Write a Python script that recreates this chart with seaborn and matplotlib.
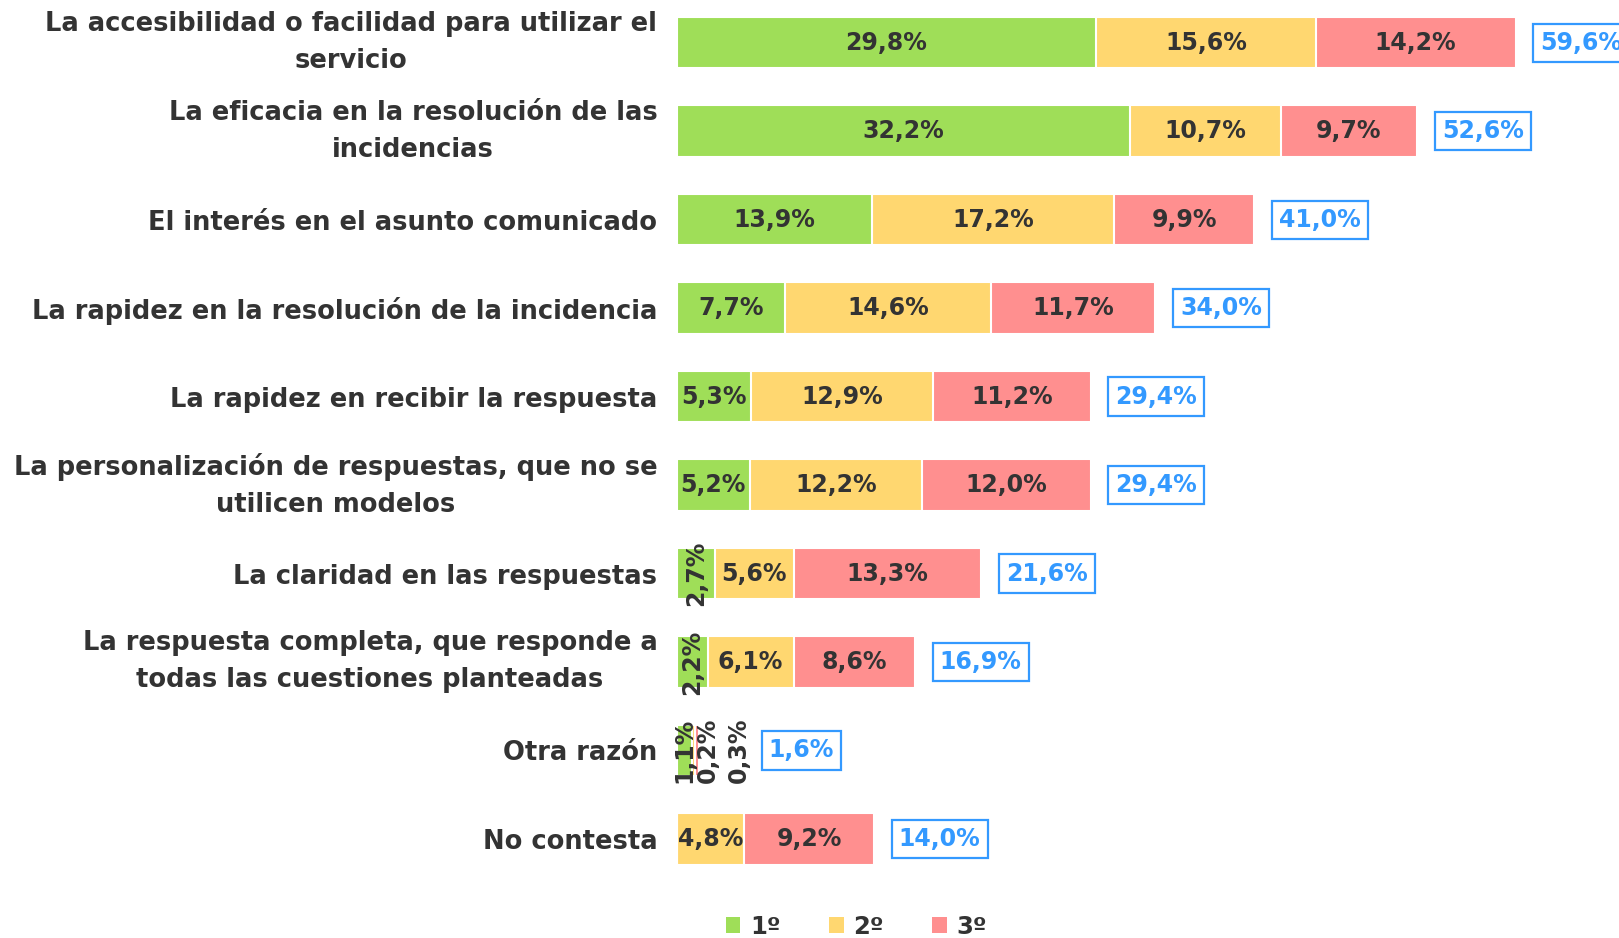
import matplotlib
matplotlib.use("Agg")
import matplotlib.pyplot as plt
from matplotlib.patches import Patch
import seaborn as sns
import pandas as pd
import numpy as np

categories = [
    "La accesibilidad o facilidad para utilizar el\nservicio",
    "La eficacia en la resolución de las\nincidencias",
    "El interés en el asunto comunicado",
    "La rapidez en la resolución de la incidencia",
    "La rapidez en recibir la respuesta",
    "La personalización de respuestas, que no se\nutilicen modelos",
    "La claridad en las respuestas",
    "La respuesta completa, que responde a\ntodas las cuestiones planteadas",
    "Otra razón",
    "No contesta",
]
primero = [29.8, 32.2, 13.9, 7.7, 5.3, 5.2, 2.7, 2.2, 1.1, 0.0]
segundo = [15.6, 10.7, 17.2, 14.6, 12.9, 12.2, 5.6, 6.1, 0.2, 4.8]
tercero = [14.2, 9.7, 9.9, 11.7, 11.2, 12.0, 13.3, 8.6, 0.3, 9.2]
totales = [59.6, 52.6, 41.0, 34.0, 29.4, 29.4, 21.6, 16.9, 1.6, 14.0]
series_names = ["1º", "2º", "3º"]

GREEN = "#9FDE58"
YELLOW = "#FFD770"
PINK = "#FF8F8F"
BLUE = "#3399FF"
TEXT = "#333333"

sns.set_theme(style="white")
plt.rcParams["font.family"] = ["DejaVu Sans"]

df = pd.DataFrame({
    "cat": categories,
    "p1": primero,
    "p2": segundo,
    "p3": tercero,
})
df["c1"] = df["p1"]
df["c2"] = df["p1"] + df["p2"]
df["c3"] = df["c2"] + df["p3"]

fig = plt.figure(figsize=(16.19, 9.38), dpi=100)
ax = fig.add_axes([0.418, 0.049, 0.582, 0.948])

bar_h = 0.58
for col, color in [("c3", PINK), ("c2", YELLOW), ("c1", GREEN)]:
    sns.barplot(data=df, y="cat", x=col, color=color, orient="h",
                width=bar_h, edgecolor="white", linewidth=1.5,
                saturation=1, ax=ax)

ax.set_xlim(0, 66.95)
ax.set_ylim(9.6, -0.45)
ax.set_xlabel("")
ax.set_ylabel("")
ax.set_xticks([])
for s in ax.spines.values():
    s.set_visible(False)

ax.tick_params(axis="y", length=0, pad=14)
for lbl in ax.get_yticklabels():
    lbl.set_fontsize(18.5)
    lbl.set_fontweight("bold")
    lbl.set_color(TEXT)
    lbl.set_multialignment("center")
    lbl.set_linespacing(1.55)
    if "\n" in lbl.get_text():
        lbl.set_verticalalignment("center")

def fmt(v):
    return f"{v:.1f}%".replace(".", ",")

LABEL_SIZE = 17
# segment labels; narrow segments get rotated labels fanned out to the right
for i in range(len(categories)):
    starts = [0, primero[i], primero[i] + segundo[i]]
    vals = [primero[i], segundo[i], tercero[i]]
    shifts = [0, 10, 30]
    small_count = 0
    for j, v in enumerate(vals):
        if v <= 0:
            continue
        cx = starts[j] + v / 2
        if v >= 3.5:
            ax.text(cx, i, fmt(v), ha="center", va="center",
                    fontsize=LABEL_SIZE, fontweight="bold", color=TEXT)
        else:
            ax.annotate(fmt(v), (cx, i), xytext=(shifts[small_count], 0),
                        textcoords="offset points", rotation=90,
                        ha="center", va="center", fontsize=LABEL_SIZE,
                        fontweight="bold", color=TEXT)
            small_count += 1
    # total box, pushed past any rotated labels that overhang the bar
    box_off = 18 if small_count < 2 else 50
    ax.annotate(fmt(totales[i]), (totales[i], i), xytext=(box_off, 0),
                textcoords="offset points", ha="left", va="center",
                fontsize=LABEL_SIZE, fontweight="bold", color=BLUE,
                bbox=dict(boxstyle="square,pad=0.3", fc="white",
                          ec=BLUE, lw=1.6))

handles = [Patch(facecolor=c, edgecolor="none") for c in (GREEN, YELLOW, PINK)]
fig.legend(handles, series_names, loc="center", bbox_to_anchor=(0.529, 0.012),
           ncol=3, frameon=False, handlelength=0.6, handleheight=0.6,
           handletextpad=0.4, columnspacing=2.0,
           prop=dict(size=17.5, weight="bold"), labelcolor=TEXT)

fig.savefig("out.png", dpi=100)
